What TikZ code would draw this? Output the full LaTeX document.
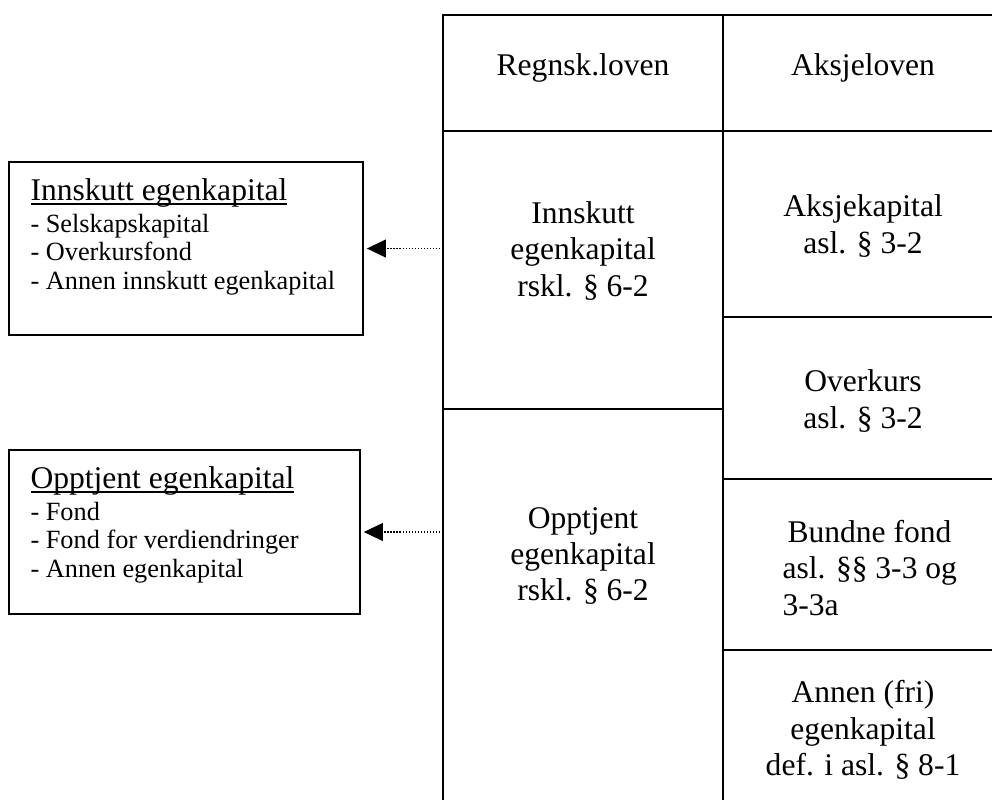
\documentclass[tikz,border=0pt]{standalone}
\usepackage{fontspec}
\setmainfont{Liberation Serif}
\usetikzlibrary{arrows.meta, positioning}
% underline close to the baseline, as in the word processor
\newcommand{\ulhead}[1]{\setbox0\hbox{#1}\rlap{\rule[-1.4pt]{\wd0}{0.75pt}}\box0}

\begin{document}
\begin{tikzpicture}[
    x=0.3802pt, y=-0.3802pt,
    grid/.style={line width=0.75pt},
    cell/.style={font=\fontsize{12}{13.85}\selectfont, align=center, inner sep=0pt},
    sidebox/.style={draw, line width=0.75pt, inner sep=0pt},
    sidetext/.style={font=\fontsize{10}{10.8}\selectfont, align=left,
                     inner sep=0pt, anchor=north west},
    pil/.style={-{Triangle[length=7.2pt, width=6.8pt]}, line width=0.4pt,
                dash pattern=on 0.45pt off 0.7pt, shorten >=1.1pt},
  ]
    \useasboundingbox (0,0) rectangle (992,800);

    % table
    \coordinate (tL) at (443,0);
    \draw[grid] (443,800) -- (443,15) -- (992,15);
    \draw[grid] (723,15) -- (723,800);
    \draw[grid] (443,131) -- (992,131);
    \draw[grid] (443,409) -- (723,409);
    \foreach \y in {317,479,650}
      \draw[grid] (723,\y) -- (992,\y);

    \node[cell] (hRL) at (583,68) {Regnsk.loven};
    \node[cell] (hAL) at (863,68) {Aksjeloven};
    \node[cell] (rlInn) at (583,251) {Innskutt\\egenkapital\\rskl. § 6-2};
    \node[cell] (rlOpp) at (583,556) {Opptjent\\egenkapital\\rskl. § 6-2};
    \node[cell] (alAk) at (863,226) {Aksjekapital\\asl. § 3-2};
    \node[cell] (alOv) at (863,401) {Overkurs\\asl. § 3-2};
    \node[cell, align=left, anchor=west] (alBf) at (782,568)
      {\hspace*{1.9pt}Bundne fond\\asl. §§ 3-3 og\\3-3a};
    \node[cell] (alAf) at (863,730) {Annen (fri)\\egenkapital\\def. i asl. § 8-1};

    % boxes on the left
    \node[sidebox, minimum width=134.6pt, minimum height=65.8pt] (innBox) at (186,248.5) {};
    \node[sidetext] (innTxt) at (30,178.5)
      {\ulhead{\fontsize{12}{13.85}\selectfont Innskutt egenkapital}\\[1.2pt]
       - Selskapskapital\\ - Overkursfond\\ - Annen innskutt egenkapital};
    \node[sidebox, minimum width=133.4pt, minimum height=62.4pt] (oppBox) at (184.5,532) {};
    \node[sidetext] (oppTxt) at (30,466.5)
      {\ulhead{\fontsize{12}{13.85}\selectfont Opptjent egenkapital}\\[1.2pt]
       - Fond\\ - Fond for verdiendringer\\ - Annen egenkapital};

    \draw[pil] (innBox.east -| tL) -- (innBox.east);
    \draw[pil] (oppBox.east -| tL) -- (oppBox.east);
  \end{tikzpicture}
\end{document}
